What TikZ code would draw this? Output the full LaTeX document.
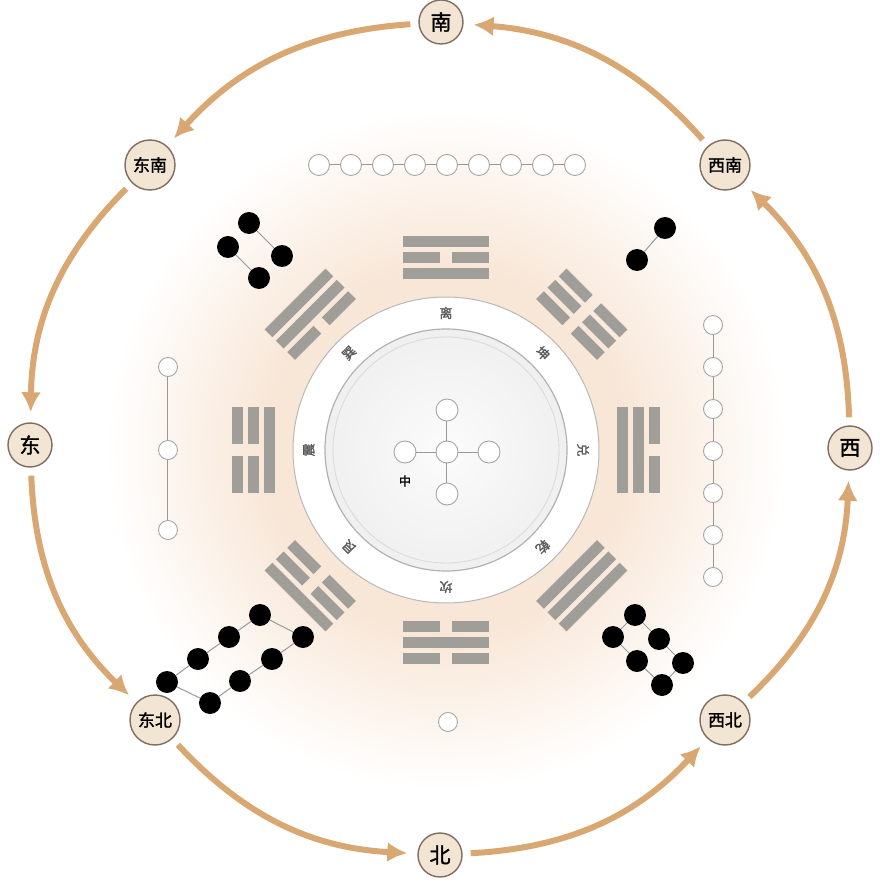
\documentclass[tikz,border=0pt]{standalone}
\usepackage{fontspec}
\newfontfamily\cjk{Noto Sans CJK SC}
\newfontfamily\cjkb{Noto Sans CJK SC}[FakeBold=1.5]
\usepackage{xcolor}
\definecolor{Arena}{HTML}{D9A872}
\definecolor{Crema}{HTML}{F3E5D3}
\definecolor{Borde}{HTML}{7D6E60}
\definecolor{Barra}{HTML}{A09E98}
\definecolor{Melocoton}{HTML}{F8E6D6}
\usepackage{tikz}
\usetikzlibrary{positioning, arrows.meta}

\pgfdeclareradialshading{halo}{\pgfpoint{0bp}{0bp}}{color(0bp)=(Melocoton); color(13bp)=(Melocoton); color(25bp)=(white); color(50bp)=(white)}

% una linea del trigrama: altura, yang (1) o yin (0)
\newcommand{\yao}[2]{%
  \ifnum#2=1 \fill[barra] (-43,#1-5.5) rectangle (43,#1+5.5);%
  \else \fill[barra] (-43,#1-5.5) rectangle (-6,#1+5.5);%
        \fill[barra] (6,#1-5.5) rectangle (43,#1+5.5);\fi}

\begin{document}
\begin{tikzpicture}[x=1pt, y=1pt,
  punto/.style={circle, draw=gray!70, fill=white, line width=0.9pt, minimum size=19pt, inner sep=0pt},
  negro/.style={circle, fill=black, minimum size=22pt, inner sep=0pt},
  enlace/.style={draw=gray!80, line width=1pt},
  barra/.style={fill=Barra},
  gua/.style={font=\cjkb\fontsize{13}{13}\selectfont, text=black!65, inner sep=0pt},
  rumbo/.style={circle, draw=Borde, line width=1.4pt, fill=Crema, inner sep=1pt, minimum size=44pt, font=\cjkb\fontsize{21}{21}\selectfont},
  rumbodoble/.style={rumbo, minimum size=50pt, font=\cjkb\fontsize{17}{17}\selectfont},
  flujo/.style={Arena, line width=6pt, -{Latex[length=20pt,width=20pt]}, shorten <=8pt, shorten >=10pt}]
\useasboundingbox (-446,-439) rectangle (437,450);
% fondo
\shade[shading=halo] (0,0) circle (340);
% anillo blanco y disco central
\fill[white] (0,0) circle (153);
\draw[gray!55, line width=1pt] (0,0) circle (153);
\shade[inner color=gray!3, outer color=gray!12] (0,0) circle (121);
\draw[gray!60, line width=1.2pt] (0,0) circle (121);
\draw[gray!30, line width=0.8pt] (0,0) circle (113);
% trigramas
\foreach \ang/\ya/\yb/\yc in {90/1/0/1, 45/0/0/0, 0/1/1/0, -45/1/1/1, -90/0/1/0, -135/0/0/1, 180/1/0/0, 135/0/1/1}{
  \begin{scope}[rotate=\ang-90]
    \yao{176}{\ya} \yao{192}{\yb} \yao{208}{\yc}
  \end{scope}
}
% nombres en el anillo
\foreach \ang/\txt in {90/离, 45/坤, 0/兑, -45/乾, -90/坎, -135/艮, 180/震, 135/巽}
  \node[gua, rotate=\ang-90] (g\ang) at (\ang:137) {\txt};
% nueve
\foreach \k in {0,...,8} \node[punto, minimum size=21pt] (n\k) at ({-127+32*\k},285) {};
\foreach \k in {1,...,8}{\pgfmathtruncatemacro\j{\k-1} \draw[enlace] (n\j) -- (n\k);}
% tres
\node[punto] (s1) at (-278,83) {};
\node[punto] (s2) at (-278,0) {};
\node[punto] (s3) at (-278,-80) {};
\draw[enlace] (s1) -- (s2) -- (s3);
% siete
\foreach \k in {0,...,6} \node[punto] (q\k) at (267,{125-42*\k}) {};
\foreach \k in {1,...,6}{\pgfmathtruncatemacro\j{\k-1} \draw[enlace] (q\j) -- (q\k);}
% uno
\node[punto] (uno) at (2,-272) {};
% cinco
\node[punto, minimum size=22pt] (c0) at (1,-2) {};
\node[punto, minimum size=22pt] (c1) at (1,40) {};
\node[punto, minimum size=22pt] (c2) at (1,-44) {};
\node[punto, minimum size=22pt] (c3) at (-41,-2) {};
\node[punto, minimum size=22pt] (c4) at (43,-2) {};
\foreach \k in {1,...,4} \draw[enlace] (c0) -- (c\k);
\node[font=\cjkb\fontsize{12}{12}\selectfont, inner sep=0pt] (zhong) at (-41,-31) {中};
% cuatro
\node[negro] (a1) at (-197,227) {};
\node[negro] (a2) at (-164,194) {};
\node[negro] (a3) at (-218,203) {};
\node[negro] (a4) at (-187,172) {};
\draw[enlace] (a1) -- (a2);
\draw[enlace] (a3) -- (a4);
% dos
\node[negro] (b1) at (219,222) {};
\node[negro] (b2) at (191,190) {};
\draw[enlace] (b1) -- (b2);
% ocho
\node[negro] (u1) at (-186,-165) {};
\node[negro] (u2) at (-217,-187) {};
\node[negro] (u3) at (-248,-209) {};
\node[negro] (u4) at (-279,-232) {};
\node[negro] (l1) at (-143,-187) {};
\node[negro] (l2) at (-174,-209) {};
\node[negro] (l3) at (-206,-231) {};
\node[negro] (l4) at (-236,-253) {};
\draw[enlace] (u1) -- (u2) -- (u3) -- (u4) -- (l4) -- (l3) -- (l2) -- (l1) -- (u1);
% seis
\node[negro] (r1) at (189,-165) {};
\node[negro] (r2) at (213,-189) {};
\node[negro] (r3) at (237,-213) {};
\node[negro] (t1) at (167,-187) {};
\node[negro] (t2) at (191,-211) {};
\node[negro] (t3) at (216,-235) {};
\draw[enlace] (r1) -- (r2) -- (r3) -- (t3) -- (t2) -- (t1) -- (r1);
% rumbos
\node[rumbo] (nan) at (-5,428) {南};
\node[rumbo] (bei) at (-6,-405) {北};
\node[rumbo] (dong) at (-416,5) {东};
\node[rumbo] (xi) at (404,2) {西};
\node[rumbodoble] (dongnan) at (-296,285) {东南};
\node[rumbodoble] (xinan) at (279,285) {西南};
\node[rumbodoble] (dongbei) at (-291,-270) {东北};
\node[rumbodoble] (xibei) at (279,-270) {西北};
% flechas
\foreach \a/\b in {nan/dongnan, dongnan/dong, dong/dongbei, dongbei/bei, bei/xibei, xibei/xi, xi/xinan, xinan/nan}
  \draw[flujo] (\a) to[bend right=22] (\b);
\end{tikzpicture}
\end{document}
